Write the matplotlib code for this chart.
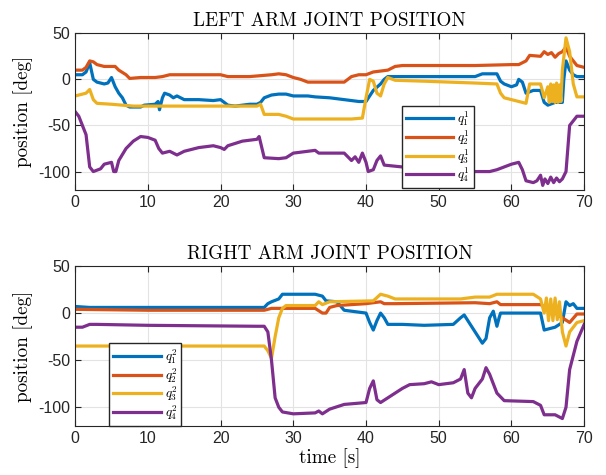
import numpy as np
import matplotlib.pyplot as plt

plt.rcParams['mathtext.fontset'] = 'cm'
plt.rcParams['axes.unicode_minus'] = False
plt.rcParams['font.family'] = ['Liberation Sans', 'DejaVu Sans']

# ---- left arm (time [s], position [deg]) ----
L1_t = [0, 1, 1.5, 2, 2.5, 3, 4, 4.5, 5, 5.5, 6, 6.5, 7, 7.5, 9, 9.5, 11, 11.4, 11.6, 12, 12.3,
        13, 13.5, 14, 15, 17, 19, 20, 21, 22, 23, 24, 25, 25.5, 26, 27, 28, 29, 30, 32, 33, 35,
        37, 39, 40, 40.5, 41, 42, 42.5, 43, 50, 55, 56, 58, 58.5, 59, 60, 60.7, 61, 61.5, 62, 63,
        64, 64.5, 65, 66, 67, 67.2, 67.5, 68, 68.5, 69, 70]
L1_y = [5, 5, 8, 18, 0, -3, -5, -4, 2, -8, -15, -20, -28, -30, -30, -28, -27, -24, -33, -20, -15,
        -17, -20, -18, -22, -22, -23, -22, -28, -29, -28, -27, -27, -25, -20, -17, -16, -16, -18, -18, -19, -20,
        -22, -24, -24, -18, -12, -5, 0, 3, 3, 3, 6, 6, -2, -5, -8, -6, 0, -3, -15, -12,
        -12, -25, -28, -25, -25, 0, 20, 10, 5, 3, 3]

L2_t = [0, 1, 1.5, 2, 2.5, 3, 4, 5.5, 6, 7, 7.5, 9, 11, 12, 13, 15, 20, 21, 24, 27, 28, 29, 30,
        31, 32, 37, 38, 39, 40, 41, 43, 44, 45, 55, 60, 61, 62, 62.5, 64, 64.5, 65, 65.5, 66,
        66.5, 67, 67.5, 68, 69, 70]
L2_y = [10, 10, 13, 20, 19, 16, 14, 14, 10, 5, 1, 2, 2, 3, 5, 5, 5, 3, 3, 5, 6, 5, 2,
        0, -3, -3, 3, 5, 5, 8, 10, 14, 15, 15, 16, 16, 20, 26, 25, 30, 27, 29, 24,
        28, 30, 35, 25, 15, 13]

L3_t = [0, 1.5, 2, 2.5, 3, 5, 8, 10, 25, 25.5, 26, 28, 29, 30, 38, 39.5, 40, 40.5, 41, 41.5, 42,
        42.5, 43, 44, 48, 55, 58, 58.5, 59, 61, 62, 62.5, 64, 64.5, 65, 65.2, 65.4, 65.6, 65.8,
        66, 66.2, 66.4, 66.6, 66.8, 67, 67.5, 68, 68.5, 69, 70]
L3_y = [-18, -15, -11, -22, -26, -27, -29, -29, -29, -27, -38, -38, -40, -43, -43, -42, -20, 0, -2, -15, -18,
        -5, 2, -1, -2, -4, -5, -15, -20, -24, -26, -5, -5, -20, -8, -25, -5, -24, -6, -25,
        -4, -25, -6, -24, 10, 45, 30, -5, -19, -19]

L4_t = [0, 0.5, 1, 1.5, 2, 2.5, 3.5, 4, 5, 5.3, 5.6, 6, 7, 8, 9, 10, 11, 11.5, 12, 13, 14, 15,
        17, 19, 20, 20.5, 21, 23, 25, 25.3, 26, 28, 29, 30, 33, 33.5, 37, 38, 38.5, 39, 39.5, 40,
        40.3, 41, 41.5, 42, 42.5, 45, 50, 53, 55, 57, 58, 60, 61, 61.5, 62, 63, 63.5, 64, 64.3,
        64.6, 65, 65.4, 65.8, 66.2, 66.6, 67, 67.5, 68, 68.5, 69, 70]
L4_y = [-35, -40, -50, -60, -95, -100, -97, -92, -90, -100, -100, -88, -75, -67, -62, -63, -66, -75, -80, -78, -82, -78,
        -74, -72, -74, -76, -72, -67, -65, -62, -85, -86, -85, -80, -77, -80, -80, -88, -84, -90, -80, -90,
        -100, -98, -88, -83, -93, -95, -97, -98, -100, -100, -98, -92, -90, -98, -110, -112, -110, -104, -115,
        -108, -113, -106, -112, -107, -111, -108, -100, -50, -45, -40, -40]

# ---- right arm ----
R1_t = [0, 2, 26, 26.5, 27, 28, 28.5, 33, 34, 34.5, 36, 37, 38, 40, 40.5, 41, 41.5, 42, 42.5, 43,
        45, 48, 52, 53, 53.5, 54, 55, 56, 56.5, 57, 57.5, 58, 58.3, 58.5, 64, 64.5, 66, 67, 67.5,
        68, 68.5, 69, 70]
R1_y = [7, 6, 6, 10, 12, 15, 20, 20, 18, 13, 12, 3, 2, 0, -10, -18, -8, 0, -5, -12,
        -12, -13, -12, -5, -2, -8, -20, -32, -27, -5, 2, -14, -5, 0, 0, -18, -15, -10, 12,
        8, 10, 5, 5]

R2_t = [0, 10, 26, 27, 33, 34, 34.5, 35, 36, 40, 42, 42.5, 44, 55, 57, 58, 58.5, 64, 65, 66, 67,
        68, 69, 70]
R2_y = [4, 3, 3, 5, 5, 0, 0, 6, 8, 10, 12, 10, 10, 11, 10, 12, 9, 9, 5, 0, -5,
        -10, -1, -1]

R3_t = [0, 26, 26.5, 27, 27.5, 28, 28.5, 29, 33, 33.5, 34, 35, 41, 42, 43, 44, 53, 55, 57, 58, 63,
        64, 64.5, 64.8, 65.1, 65.4, 65.7, 66, 66.3, 66.6, 67, 67.5, 68, 69, 70]
R3_y = [-35, -35, -40, -48, -25, -5, 5, 8, 8, 12, 9, 12, 13, 20, 18, 15, 15, 17, 17, 20, 20,
        15, 0, 16, -8, 15, -8, 16, -7, 12, -20, -35, -20, -10, -8]

R4_t = [0, 1, 2, 3, 10, 25, 26, 26.5, 27, 27.5, 28, 28.5, 30, 33, 33.5, 34, 35, 37, 40, 40.5, 41,
        41.5, 42, 43, 45, 46, 48, 49, 50, 52, 53, 53.5, 54, 54.5, 55, 56, 56.5, 57, 58, 59, 63,
        64, 64.5, 66, 67, 67.5, 68, 68.5, 69, 70]
R4_y = [-15, -15, -12, -12, -13, -14, -14, -20, -50, -90, -100, -105, -107, -106, -104, -107, -102, -97, -95, -80, -72,
        -92, -95, -90, -80, -76, -75, -73, -76, -74, -70, -60, -85, -90, -80, -70, -58, -65, -85, -93, -94,
        -98, -108, -108, -112, -100, -60, -45, -30, -12]

colors = ['#0072BD', '#D95319', '#EDB120', '#7E2F8E']
serif = dict(family='cmr10', fontsize=13.8)

fig = plt.figure(figsize=(6.06, 4.75), dpi=100)
ax1 = fig.add_axes([0.124, 0.600, 0.840, 0.330])
ax2 = fig.add_axes([0.124, 0.103, 0.840, 0.337])

left = [(L1_t, L1_y), (L2_t, L2_y), (L3_t, L3_y), (L4_t, L4_y)]
right = [(R1_t, R1_y), (R2_t, R2_y), (R3_t, R3_y), (R4_t, R4_y)]

for ax, series, arm, title in [(ax1, left, 1, 'LEFT ARM JOINT POSITION'),
                               (ax2, right, 2, 'RIGHT ARM JOINT POSITION')]:
    for i, (t, y) in enumerate(series):
        ax.plot(t, y, color=colors[i], lw=2.3, label=r'$q_{%d}^{%d}$' % (i + 1, arm))
    ax.set_xlim(0, 70)
    ax.set_ylim(-120, 50)
    ax.set_xticks(np.arange(0, 71, 10))
    ax.set_yticks([-100, -50, 0, 50])
    ax.grid(True, color='#e3e3e3', lw=0.8)
    ax.set_axisbelow(True)
    ax.tick_params(direction='in', labelsize=11.5, colors='#262626', length=4, top=True, right=True)
    for s in ax.spines.values():
        s.set_color('#262626')
        s.set_linewidth(0.8)
    ax.set_title(title, pad=5, **serif)
    ax.set_ylabel('position [deg]', labelpad=4, **serif)

leg_kw = dict(fontsize=9.5, handlelength=3.6, frameon=True, fancybox=False,
              edgecolor='#262626', framealpha=1, borderpad=0.3, labelspacing=0.0,
              handletextpad=0.3, borderaxespad=0)
ax1.legend(loc='lower left', bbox_to_anchor=(0.642, 0.01), **leg_kw)
ax2.legend(loc='lower left', bbox_to_anchor=(0.067, 0.0), **leg_kw)
ax2.set_xlabel('time [s]', labelpad=2, **serif)

fig.savefig('out.png', dpi=100)
